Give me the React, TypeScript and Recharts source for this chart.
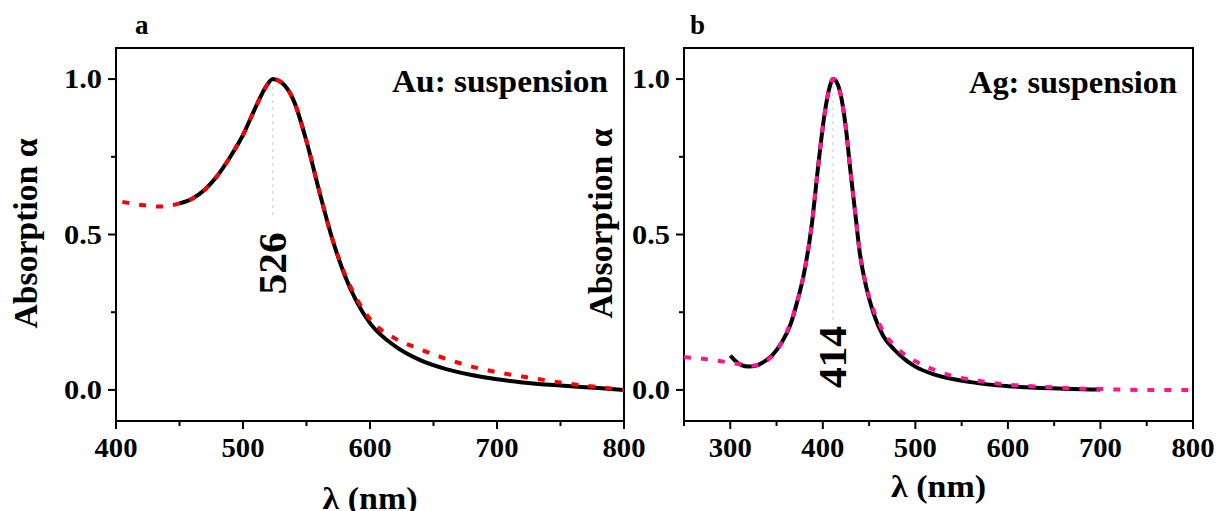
import React from 'react';
import { LineChart, Line, XAxis, YAxis, ReferenceArea, ReferenceLine, ReferenceDot } from 'recharts';

const SERIF = "'Liberation Serif', 'Times New Roman', Times, serif";

// Au suspension: measured (black) and fitted (red dotted)
const auSolidNm = [450, 460, 470, 480, 490, 500, 510, 518, 523.5, 530, 540, 550, 560, 570, 580, 590, 600, 620, 640, 660, 680, 700, 720, 750, 780, 800];
const auSolidAbs = [0.6, 0.615, 0.645, 0.69, 0.75, 0.82, 0.91, 0.975, 1.0, 0.99, 0.93, 0.8, 0.64, 0.49, 0.37, 0.28, 0.215, 0.14, 0.095, 0.067, 0.048, 0.034, 0.024, 0.014, 0.006, 0.0];
const auDotNm = [405, 420, 435, 450, 460, 470, 480, 490, 500, 510, 518, 523.5, 530, 540, 550, 560, 570, 580, 590, 600, 620, 640, 660, 680, 700, 720, 740, 760, 780, 800];
const auDotAbs = [0.605, 0.595, 0.59, 0.6, 0.615, 0.645, 0.69, 0.75, 0.82, 0.91, 0.975, 1.0, 0.99, 0.93, 0.8, 0.64, 0.49, 0.375, 0.29, 0.228, 0.165, 0.13, 0.1, 0.075, 0.057, 0.043, 0.03, 0.018, 0.009, 0.0];

// Ag suspension
const agSolidNm = [300, 305, 312, 320, 328, 335, 345, 355, 365, 372, 380, 388, 395, 402, 407, 411, 415, 420, 425, 430, 435, 440, 447, 455, 465, 477, 490, 500, 520, 540, 560, 580, 600, 630, 660, 700];
const agSolidAbs = [0.11, 0.095, 0.08, 0.075, 0.078, 0.088, 0.11, 0.15, 0.21, 0.28, 0.38, 0.53, 0.72, 0.89, 0.97, 1.0, 0.99, 0.94, 0.84, 0.7, 0.57, 0.44, 0.33, 0.245, 0.175, 0.13, 0.095, 0.075, 0.05, 0.035, 0.025, 0.017, 0.012, 0.007, 0.004, 0.001];
const agDotNm = [250, 270, 290, 305, 315, 322, 330, 340, 350, 360, 370, 380, 388, 395, 402, 407, 411, 415, 420, 425, 430, 435, 440, 447, 455, 465, 480, 490, 500, 520, 540, 560, 580, 600, 620, 650, 680, 700, 720, 750, 800];
const agDotAbs = [0.105, 0.1, 0.092, 0.085, 0.08, 0.078, 0.08, 0.095, 0.125, 0.18, 0.26, 0.38, 0.53, 0.72, 0.89, 0.97, 1.0, 0.99, 0.94, 0.84, 0.7, 0.57, 0.44, 0.335, 0.255, 0.19, 0.135, 0.11, 0.092, 0.065, 0.045, 0.033, 0.024, 0.017, 0.013, 0.008, 0.004, 0.003, 0.001, 0.0, 0.0];

// ticks
const auBottomMajor = [400, 500, 600, 700, 800];
const auBottomMinor = [450, 550, 650, 750];
const auTopTicks = [440, 480, 520, 560, 600, 640, 680, 720, 760];
const auTopMajor = [480, 560, 640, 720];
const agBottomMajor = [300, 400, 500, 600, 700, 800];
const agBottomMinor = [250, 350, 450, 550, 650, 750];
const agTopTicks = [305, 360, 415, 470, 525, 580, 635, 690, 745];
const agTopMajor = [360, 470, 580, 690];
const yMajor = [0, 0.5, 1];
const yMinor = [0.25, 0.75];

const zip = (nm: number[], a: number[]) => nm.map((x, i) => ({ x, y: a[i] }));

const bold = { style: { fontFamily: SERIF, fontWeight: 700 }, fill: '#000' };

const bottomTick = (majors: number[]) => (props: any) => {
  const { x, y, payload } = props;
  const major = majors.includes(payload.value);
  return (
    <g>
      <line x1={x} y1={y} x2={x} y2={y + (major ? 8 : 5)} stroke="#000" strokeWidth={2} />
      {major && (
        <text x={x} y={y + 36} textAnchor="middle" fontSize={27} textLength={43} lengthAdjust="spacingAndGlyphs" {...bold}>
          {payload.value}
        </text>
      )}
    </g>
  );
};

const topTick = (majors: number[]) => (props: any) => {
  const { x, y, payload } = props;
  const major = majors.includes(payload.value);
  return <line x1={x} y1={y} x2={x} y2={y + (major ? 7 : 4)} stroke="#000" strokeWidth={2} />;
};

const leftTick = (props: any) => {
  const { x, y, payload } = props;
  const major = yMajor.includes(payload.value);
  return (
    <g>
      <line x1={x - (major ? 8 : 5)} y1={y} x2={x} y2={y} stroke="#000" strokeWidth={2} />
      {major && (
        <text x={x - 14} y={y + 9} textAnchor="end" fontSize={27} textLength={38} lengthAdjust="spacingAndGlyphs" {...bold}>
          {payload.value.toFixed(1)}
        </text>
      )}
    </g>
  );
};

type PanelProps = {
  left: number;
  width: number;
  margin: { top: number; right: number; bottom: number; left: number };
  domain: [number, number];
  bottomTicks: number[];
  bottomMajor: number[];
  topTicks: number[];
  topMajor: number[];
  solid: { x: number; y: number }[];
  dotted: { x: number; y: number }[];
  dotColor: string;
  peakNm: number;
  peakLabel: string;
  peakLabelY: number;
  peakLineEnd: number;
  title: string;
  titleLength: number;
  titleDy: number;
  letter: string;
  letterDx: number;
  yTitleDx: number;
  yTitleDy: number;
  xTitleDy: number;
};

const Panel = (p: PanelProps) => (
  <div style={{ position: 'absolute', left: p.left, top: 0 }}>
    <LineChart width={p.width} height={511} margin={p.margin}>
      <XAxis
        xAxisId="b"
        dataKey="x"
        type="number"
        domain={p.domain}
        allowDataOverflow
        ticks={p.bottomTicks}
        interval={0}
        height={60}
        axisLine={false}
        tickLine={false}
        tickSize={0}
        tickMargin={0}
        tick={bottomTick(p.bottomMajor)}
        label={(lp: any) => {
          const vb = lp.viewBox;
          return (
            <text x={vb.x + vb.width / 2} y={vb.y + p.xTitleDy} textAnchor="middle" fontSize={31} textLength={95} lengthAdjust="spacingAndGlyphs" {...bold}>
              λ (nm)
            </text>
          );
        }}
      />
      <XAxis
        xAxisId="t"
        orientation="top"
        type="number"
        domain={p.domain}
        allowDataOverflow
        ticks={p.topTicks}
        interval={0}
        height={10}
        axisLine={false}
        tickLine={false}
        tickSize={0}
        tickMargin={0}
        tick={topTick(p.topMajor)}
        label={(lp: any) => {
          const vb = lp.viewBox;
          return (
            <text x={vb.x + p.letterDx} y={vb.y - 4} fontSize={27} {...bold}>
              {p.letter}
            </text>
          );
        }}
      />
      <YAxis
        type="number"
        domain={[-0.1, 1.1]}
        allowDataOverflow
        ticks={[0, 0.25, 0.5, 0.75, 1]}
        interval={0}
        width={60}
        axisLine={false}
        tickLine={false}
        tickSize={0}
        tickMargin={0}
        tick={leftTick}
        label={(lp: any) => {
          const vb = lp.viewBox;
          const cx = vb.x + p.yTitleDx;
          const cy = vb.y + vb.height / 2 + p.yTitleDy;
          return (
            <text
              x={cx}
              y={cy}
              transform={`rotate(-90 ${cx} ${cy})`}
              textAnchor="middle"
              dominantBaseline="central"
              fontSize={33}
              textLength={190}
              lengthAdjust="spacingAndGlyphs"
              {...bold}
            >
              Absorption α
            </text>
          );
        }}
      />
      <ReferenceArea
        xAxisId="b"
        x1={p.domain[0]}
        x2={p.domain[1]}
        y1={-0.1}
        y2={1.1}
        fill="none"
        stroke="#000"
        strokeWidth={2}
        label={(lp: any) => {
          const vb = lp.viewBox;
          return (
            <text x={vb.x + vb.width - 16} y={vb.y + p.titleDy} textAnchor="end" fontSize={31} textLength={p.titleLength} lengthAdjust="spacingAndGlyphs" {...bold}>
              {p.title}
            </text>
          );
        }}
      />
      <ReferenceLine
        xAxisId="b"
        segment={[{ x: p.peakNm, y: 1 }, { x: p.peakNm, y: p.peakLineEnd }]}
        stroke="#c8c8c8"
        strokeWidth={1}
        strokeDasharray="3 4"
      />
      <Line xAxisId="b" data={p.solid} dataKey="y" type="monotone" stroke="#000" strokeWidth={4} dot={false} isAnimationActive={false} />
      <Line xAxisId="b" data={p.dotted} dataKey="y" type="monotone" stroke={p.dotColor} strokeWidth={4} strokeDasharray="7 10" dot={false} isAnimationActive={false} />
      <ReferenceDot
        xAxisId="b"
        x={p.peakNm}
        y={p.peakLabelY}
        r={0}
        fill="none"
        stroke="none"
        label={(lp: any) => {
          const vb = lp.viewBox;
          const cx = vb.x + (vb.width || 0) / 2;
          const cy = vb.y + (vb.height || 0) / 2;
          return (
            <text
              x={cx}
              y={cy}
              transform={`rotate(-90 ${cx} ${cy})`}
              textAnchor="middle"
              dominantBaseline="central"
              fontSize={40}
              textLength={62}
              lengthAdjust="spacingAndGlyphs"
              {...bold}
            >
              {p.peakLabel}
            </text>
          );
        }}
      />
    </LineChart>
  </div>
);

export default function App() {
  return (
    <div style={{ position: 'absolute', left: 0, top: 0, width: 1216, height: 511, background: '#fff', overflow: 'hidden' }}>
      <Panel
        left={0}
        width={660}
        margin={{ top: 38, right: 36, bottom: 30, left: 56 }}
        domain={[400, 800]}
        bottomTicks={[...auBottomMajor, ...auBottomMinor].sort((a, b) => a - b)}
        bottomMajor={auBottomMajor}
        topTicks={auTopTicks}
        topMajor={auTopMajor}
        solid={zip(auSolidNm, auSolidAbs)}
        dotted={zip(auDotNm, auDotAbs)}
        dotColor="#ff0000"
        peakNm={523.5}
        peakLabel="526"
        peakLabelY={0.407}
        peakLineEnd={0.555}
        title="Au: suspension"
        titleLength={216}
        titleDy={44}
        letter="a"
        letterDx={19}
        yTitleDx={-30}
        yTitleDy={-1}
        xTitleDy={88}
      />
      <Panel
        left={570}
        width={646}
        margin={{ top: 38, right: 23, bottom: 30, left: 54 }}
        domain={[250, 800]}
        bottomTicks={[...agBottomMajor, ...agBottomMinor].sort((a, b) => a - b)}
        bottomMajor={agBottomMajor}
        topTicks={agTopTicks}
        topMajor={agTopMajor}
        solid={zip(agSolidNm, agSolidAbs)}
        dotted={zip(agDotNm, agDotAbs)}
        dotColor="#ff1493"
        peakNm={411}
        peakLabel="414"
        peakLabelY={0.106}
        peakLineEnd={0.22}
        title="Ag: suspension"
        titleLength={208}
        titleDy={45}
        letter="b"
        letterDx={6}
        yTitleDx={-23}
        yTitleDy={-11}
        xTitleDy={76}
      />
    </div>
  );
}
